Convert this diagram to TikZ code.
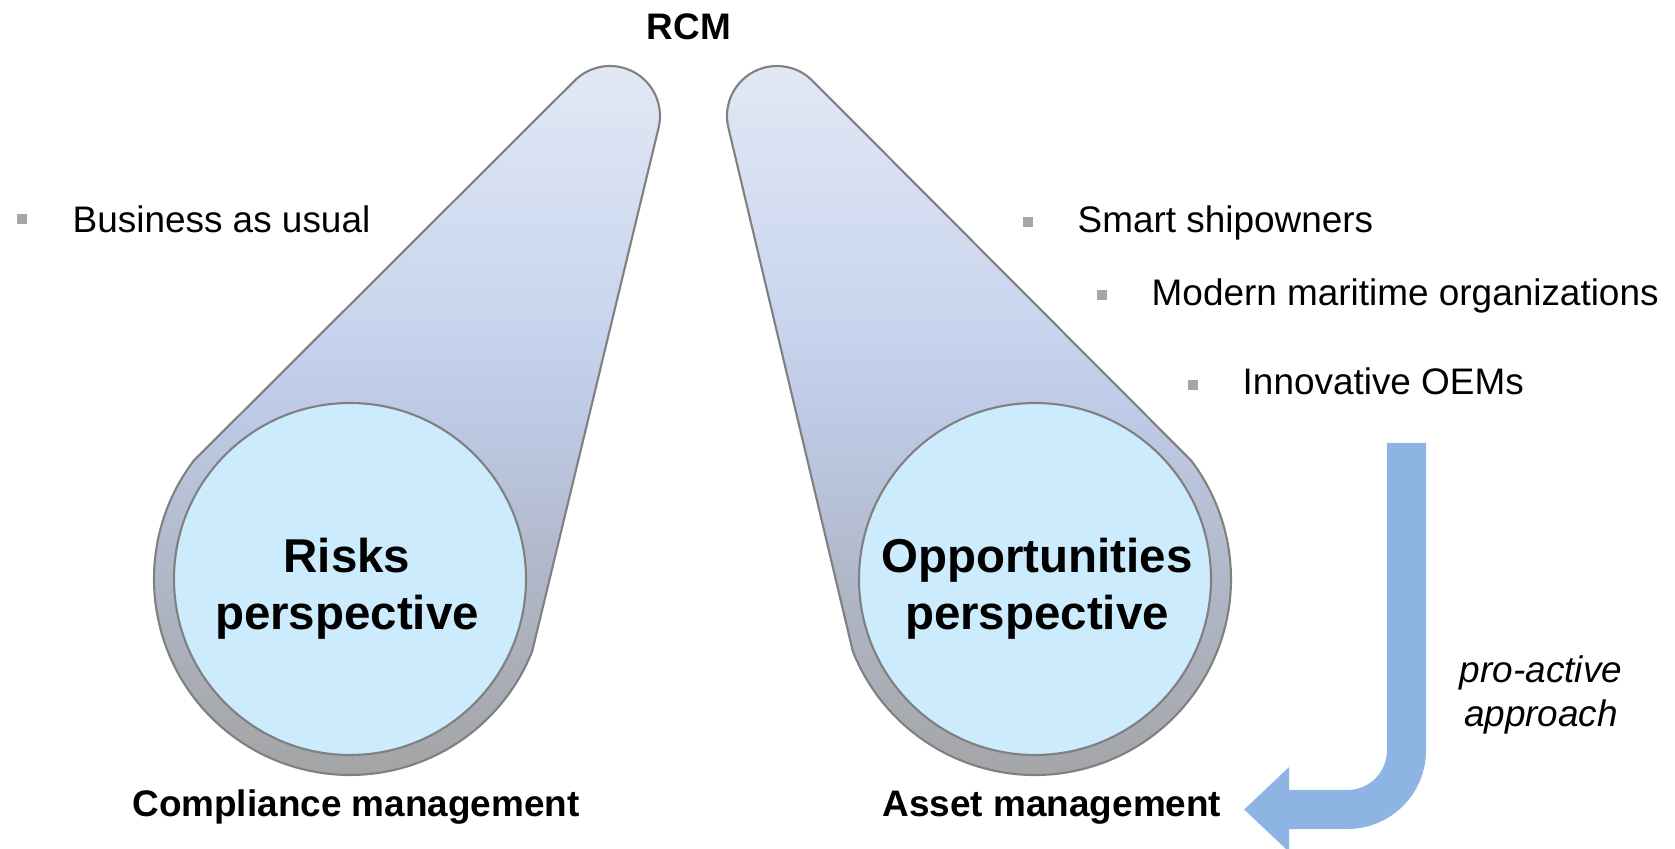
\documentclass[tikz,border=0pt]{standalone}
\usepackage{fontspec}
\setmainfont{Liberation Sans}
\usetikzlibrary{calc,arrows.meta}

\definecolor{rimgray}{RGB}{128,128,128}
\definecolor{lensblue}{RGB}{204,236,254}
\definecolor{arrowblue}{RGB}{142,180,227}
\definecolor{bulletgray}{RGB}{166,166,166}
\definecolor{funnelA}{RGB}{226,232,245}
\definecolor{funnelB}{RGB}{202,214,238}
\definecolor{funnelC}{RGB}{190,202,230}
\definecolor{funnelD}{RGB}{175,182,198}
\definecolor{funnelE}{RGB}{163,163,163}

\pgfdeclareverticalshading{funnelshade}{100bp}{color(0bp)=(funnelE); color(25bp)=(funnelE); color(39bp)=(funnelD); color(51bp)=(funnelC); color(58bp)=(funnelB); color(75bp)=(funnelA); color(100bp)=(funnelA)}

\tikzset{
  funnel/.style={shading=funnelshade, draw=rimgray, line width=0.6pt},
  lens/.style={fill=lensblue, draw=rimgray, line width=0.6pt},
  bigtext/.style={inner sep=0, align=center, font=\fontsize{13.5}{16.2}\selectfont\bfseries},
  headtext/.style={inner sep=0, anchor=base, font=\fontsize{10.5}{12.6}\selectfont\bfseries},
  itemtext/.style={inner sep=0, anchor=base west, font=\fontsize{10.5}{12.6}\selectfont},
  notetext/.style={inner sep=0, align=center, font=\fontsize{10.5}{12.6}\selectfont\itshape},
  bulletsq/.style={fill=bulletgray},
  proarrow/.style={draw=arrowblue, line width=0.39cm, rounded corners=0.59cm, -{Triangle[width=0.82cm,length=0.45cm]}}
}

\begin{document}
\begin{tikzpicture}[x=0.01cm,y=0.01cm]
      \useasboundingbox (0,0) rectangle (1675,-849);
      % funnels
      \shadedraw[funnel] (610,-116) ++(-13.35:50) arc[start angle=-13.35, end angle=135, radius=50]
        -- ($(350,-579)+(142.8:196)$) arc[start angle=142.8, end angle=338.4, radius=196] -- cycle;
      \shadedraw[funnel] (777,-116) ++(45:50) arc[start angle=45, end angle=193.35, radius=50]
        -- ($(1035,-579)+(201.6:196)$) arc[start angle=201.6, end angle=397.2, radius=196] -- cycle;
      % lenses
      \draw[lens] (350,-579) circle[radius=176];
      \draw[lens] (1035,-579) circle[radius=176];
      \node[bigtext] (risks) at (347,-589) {Risks\\perspective};
      \node[bigtext] (opps) at (1037,-589) {Opportunities\\perspective};
      % headings
      \node[headtext] (rcm) at (689,-40) {RCM};
      \node[headtext] (compliance) at (356,-817) {Compliance management};
      \node[headtext] (asset) at (1052,-817) {Asset management};
      % bullets
      \fill[bulletsq] (17,-214) rectangle (27,-224);
      \node[itemtext] (usual) at (72,-233) {Business as usual};
      \fill[bulletsq] (1023,-217) rectangle (1033,-227);
      \node[itemtext] (smart) at (1077,-233) {Smart shipowners};
      \fill[bulletsq] (1097,-290) rectangle (1107,-300);
      \node[itemtext] (modern) at (1151,-306) {Modern maritime organizations};
      \fill[bulletsq] (1188,-380) rectangle (1198,-390);
      \node[itemtext] (oems) at (1242,-395) {Innovative OEMs};
      % pro-active arrow
      \coordinate (arrowtop) at (1406.5,-443);
      \coordinate (arrowtip) at (1244,-809.5);
      \draw[proarrow] (arrowtop) |- (arrowtip);
      \node[notetext] (proactive) at (1541,-695) {pro-active\\approach};
\end{tikzpicture}
\end{document}
